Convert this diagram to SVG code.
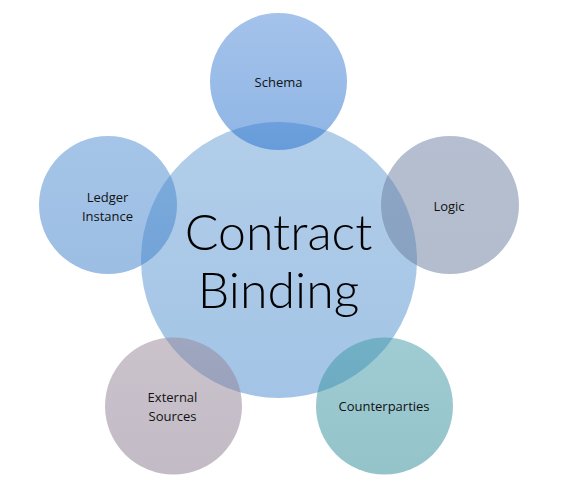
<svg xmlns="http://www.w3.org/2000/svg" width="569" height="493" viewBox="0 0 569 493">
<defs>
<linearGradient id="gC" x1="0" y1="0" x2="0" y2="1"><stop offset="0" stop-color="#b2cee9"/><stop offset="1" stop-color="#a3c4e6"/></linearGradient>
<linearGradient id="gS" x1="0" y1="0" x2="0" y2="1"><stop offset="0" stop-color="#4a86d6"/><stop offset="1" stop-color="#1f6ccc"/></linearGradient>
<linearGradient id="gL" x1="0" y1="0" x2="0" y2="1"><stop offset="0" stop-color="#4c8bd0"/><stop offset="1" stop-color="#3a7dc8"/></linearGradient>
<linearGradient id="gG" x1="0" y1="0" x2="0" y2="1"><stop offset="0" stop-color="#6c7fa2"/><stop offset="1" stop-color="#687b9c"/></linearGradient>
<linearGradient id="gE" x1="0" y1="0" x2="0" y2="1"><stop offset="0" stop-color="#978699"/><stop offset="1" stop-color="#86768a"/></linearGradient>
<linearGradient id="gP" x1="0" y1="0" x2="0" y2="1"><stop offset="0" stop-color="#3f9aa6"/><stop offset="1" stop-color="#2a8794"/></linearGradient>
</defs>
<style>
.lbl{font-family:"Open Sans","Noto Sans","DejaVu Sans",sans-serif;font-size:13px;fill:#111;text-anchor:middle}
.big{font-family:Lato,"Open Sans","DejaVu Sans",sans-serif;font-weight:300;font-size:50px;fill:#000;text-anchor:middle}
.sat{fill-opacity:0.5}
</style>
<rect width="569" height="493" fill="#fff"/>
<g id="center">
<circle cx="279" cy="260" r="138" fill="url(#gC)"/>
</g>
<g id="schema">
<circle class="sat" cx="278.5" cy="81.5" r="68.5" fill="url(#gS)"/>
<text class="lbl" x="278.5" y="86.5">Schema</text>
</g>
<g id="logic">
<circle class="sat" cx="450" cy="205" r="69" fill="url(#gG)" fill-opacity="0.47"/>
<text class="lbl" x="449" y="211">Logic</text>
</g>
<g id="counterparties">
<circle class="sat" cx="384.5" cy="406" r="68.5" fill="url(#gP)" fill-opacity="0.42"/>
<text class="lbl" x="384" y="411">Counterparties</text>
</g>
<g id="external">
<circle class="sat" cx="173.5" cy="406" r="68.5" fill="url(#gE)" fill-opacity="0.45"/>
<text class="lbl" x="172.5" y="402">External</text>
<text class="lbl" x="172.5" y="421">Sources</text>
</g>
<g id="ledger">
<circle class="sat" cx="108" cy="205" r="69" fill="url(#gL)" fill-opacity="0.45"/>
<text class="lbl" x="107.5" y="202">Ledger</text>
<text class="lbl" x="107.5" y="221">Instance</text>
</g>
<g id="center-label">
<text class="big" x="278.5" y="250">Contract</text>
<text class="big" x="278.5" y="308">Binding</text>
</g>
<g id="connectors"></g>
</svg>
